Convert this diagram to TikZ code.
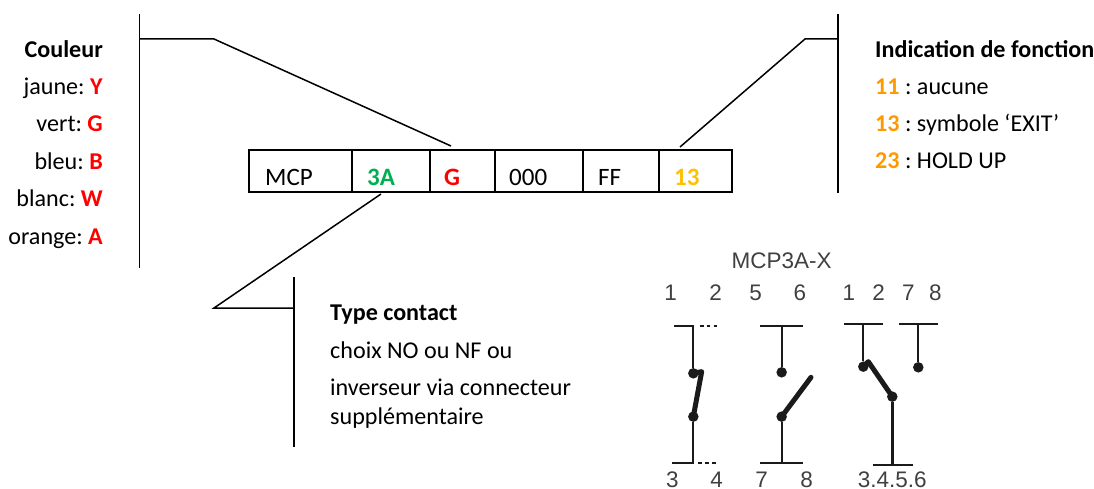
\documentclass[tikz,border=0pt]{standalone}
\usepackage{fontspec}
\setmainfont{Carlito}
\newfontfamily\arialfont{Liberation Sans}
\frenchspacing
\definecolor{redc}{HTML}{FF0000}
\definecolor{greenc}{HTML}{00B050}
\definecolor{amberc}{HTML}{FFC000}
\definecolor{orangec}{HTML}{FF9900}
\definecolor{swink}{HTML}{1A1A1A}
\definecolor{swtext}{HTML}{404040}
\newcommand{\rd}[1]{\textcolor{redc}{\textbf{#1}}}
\newcommand{\og}[1]{\textcolor{orangec}{\textbf{#1}}}
\tikzset{
  leader/.style={draw=black,line width=1.5pt},
  cell/.style={draw=black,line width=1.6pt,outer sep=0pt,minimum height=42pt,anchor=north west,inner sep=0pt},
  celltext/.style={anchor=base west,inner sep=0pt,font=\fontsize{25}{27}\selectfont},
  boldcell/.style={anchor=base west,inner sep=0pt,font=\fontsize{25}{27}\selectfont\bfseries},
  txt/.style={anchor=base west,inner sep=0pt,font=\fontsize{24.1}{26}\selectfont},
  txr/.style={anchor=base east,inner sep=0pt,font=\fontsize{24.1}{26}\selectfont},
  thin sw/.style={draw=swink,line width=2.2pt},
  thick sw/.style={draw=swink,line width=5pt,line cap=round,line join=round},
  dotted sw/.style={draw=swink,line width=2.2pt,dash pattern=on 3.6pt off 3.2pt},
  swdot/.style={circle,fill=swink,inner sep=0pt,minimum size=10.5pt},
  swnum/.style={anchor=base,inner sep=0pt,text=swtext,font=\arialfont\fontsize{22.5}{24}\selectfont}
}
\begin{document}
\begin{tikzpicture}[x=1pt,y=-1pt]
\useasboundingbox (0,0) rectangle (1094,489);
% boxes
\node[cell,minimum width=103pt] (c1) at (249,150) {};
\node[cell,minimum width=78pt] (c2) at (352,150) {};
\node[cell,minimum width=65pt] (c3) at (430,150) {};
\node[cell,minimum width=88pt] (c4) at (495,150) {};
\node[cell,minimum width=76pt] (c5) at (583,150) {};
\node[cell,minimum width=73pt] (c6) at (659,150) {};
\node[celltext] (t1) at (265,185.5) {MCP};
\node[boldcell,text=greenc] (t2) at (367,185.5) {3A};
\node[boldcell,text=redc] (t3) at (444,185.5) {G};
\node[celltext] (t4) at (509,185.5) {000};
\node[celltext] (t5) at (598,185.5) {FF};
\node[boldcell,text=amberc] (t6) at (674,185.5) {13};
% left column
\node[txr] (a0) at (103,58) {\textbf{Couleur}};
\node[txr] (a1) at (103,95) {jaune: \rd{Y}};
\node[txr] (a2) at (103,132) {vert: \rd{G}};
\node[txr] (a3) at (103,170) {bleu: \rd{B}};
\node[txr] (a4) at (103,207) {blanc: \rd{W}};
\node[txr] (a5) at (103,244) {orange: \rd{A}};
% right column
\node[txt] (b0) at (875,58) {\textbf{Indication de fonction}};
\node[txt] (b1) at (875,95) {\og{11} : aucune};
\node[txt] (b2) at (875,132) {\og{13} : symbole ‘EXIT’};
\node[txt] (b3) at (875,169) {\og{23} : HOLD UP};
% bottom
\node[txt] (d0) at (330,320) {\textbf{Type contact}};
\node[txt] (d1) at (330,358) {choix NO ou NF ou};
\node[txt] (d2) at (330,395) {inverseur via connecteur};
\node[txt] (d3) at (330,424) {supplémentaire};
% leaders
\coordinate (lt) at (139.5,14); \coordinate (lb) at (139.5,268); \coordinate (lk) at (139.5,39); \coordinate (lm) at (214,39); \coordinate (le) at (451,146);
\draw[leader] (lt) -- (lb);
\draw[leader] (lk) -- (lm) -- (le);
\coordinate (rt) at (838,14); \coordinate (rb) at (838,193); \coordinate (rk) at (838,39); \coordinate (rm) at (805,39); \coordinate (re) at (680,147);
\draw[leader] (rt) -- (rb);
\draw[leader] (rk) -- (rm) -- (re);
\coordinate (bt) at (294,277); \coordinate (bb) at (294,447); \coordinate (bk) at (294,308); \coordinate (bm) at (214,308); \coordinate (be) at (381,194);
\draw[leader] (bt) -- (bb);
\draw[leader] (bk) -- (bm) -- (be);
% switch
\begin{scope}[shift={(640,240)},x=0.3333pt,y=-0.3333pt]
\node[swnum] (title) at (425,87) {MCP3A-X};
\foreach \n/\lab/\px/\py in {n1/1/92/181,n2/2/227/181,n3/5/347/181,n4/6/480/181,n5/1/627/181,n6/2/716/181,n7/7/805/181,n8/8/886/181,n9/3/97/742,n10/4/230/742,n11/7/365/742,n12/8/500/742}
  \node[swnum] (\n) at (\px,\py) {\lab};
\node[swnum] (n13) at (757,742) {3.4.5.6};
% left contact
\node[swdot] (p1) at (160,400) {};
\node[swdot] (p2) at (160,530) {};
\coordinate (p1a) at (103,258); \coordinate (p1b) at (160,258); \coordinate (p1c) at (180,258); \coordinate (p1d) at (238,258);
\coordinate (p2a) at (97,670); \coordinate (p2b) at (160,670); \coordinate (p2c) at (175,670); \coordinate (p2d) at (233,670);
\coordinate (p1t) at (185,395);
\draw[thin sw] (p1a) -- (p1b) -- (p1);
\draw[thin sw] (p2a) -- (p2b) -- (p2);
\draw[dotted sw] (p1c) -- (p1d);
\draw[dotted sw] (p2c) -- (p2d);
\draw[thick sw] (p1.center) -- (p1t) -- (p2.center);
% middle contact
\node[swdot] (q1) at (425,397) {};
\node[swdot] (q2) at (425,530) {};
\coordinate (q1a) at (360,257); \coordinate (q1b) at (490,257); \coordinate (q1m) at (425,257);
\coordinate (q2a) at (360,668); \coordinate (q2b) at (490,668); \coordinate (q2m) at (425,668);
\coordinate (q3) at (513,412);
\draw[thin sw] (q1a) -- (q1b);
\draw[thin sw] (q1m) -- (q1);
\draw[thin sw] (q2a) -- (q2b);
\draw[thin sw] (q2m) -- (q2);
\draw[thick sw] (q2.center) -- (q3);
% right contact
\node[swdot] (r1) at (670,380) {};
\node[swdot] (r2) at (757,470) {};
\node[swdot] (r3) at (835,382) {};
\coordinate (r1a) at (613,252); \coordinate (r1b) at (730,252); \coordinate (r1m) at (670,252);
\coordinate (r3a) at (778,252); \coordinate (r3b) at (895,252); \coordinate (r3m) at (835,252);
\coordinate (r2a) at (698,675); \coordinate (r2b) at (818,675); \coordinate (r2m) at (757,675);
\coordinate (r4) at (685,365);
\draw[thin sw] (r1a) -- (r1b);
\draw[thin sw] (r1m) -- (r1);
\draw[thin sw] (r3a) -- (r3b);
\draw[thin sw] (r3m) -- (r3);
\draw[thin sw] (r2a) -- (r2b);
\draw[draw=swink,line width=3pt] (r2m) -- (r2);
\draw[thick sw] (r1.center) -- (r4) -- (r2.center);
\end{scope}
\end{tikzpicture}
\end{document}
